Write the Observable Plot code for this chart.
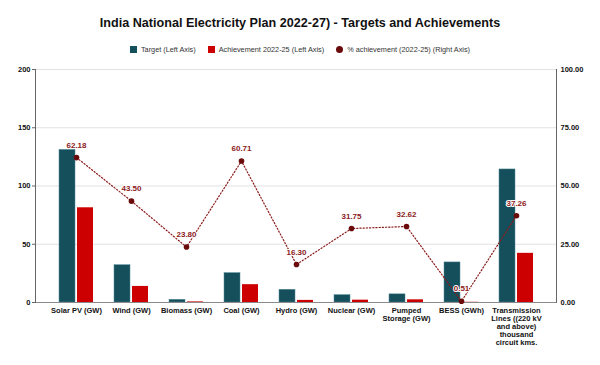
<!DOCTYPE html>
<html>
<head>
<meta charset="utf-8">
<script src="https://cdn.jsdelivr.net/npm/d3@7"></script>
<script src="https://cdn.jsdelivr.net/npm/@observablehq/plot@0.6"></script>
<style>
  body { margin: 0; background: #fff; font-family: "Liberation Sans", Arial, sans-serif; }
  #wrap { width: 600px; }
  #title { height: 38px; line-height: 46px; text-align: center; font-weight: bold; font-size: 12.6px; color: #111; font-family: "Liberation Sans", Arial, sans-serif; }
  #legend { height: 22px; display: flex; justify-content: center; align-items: center; gap: 12px; font-size: 7.3px; color: #333; font-family: "Liberation Sans", Arial, sans-serif; }
  .item { display: flex; align-items: center; gap: 4px; }
  .sw { width: 7px; height: 7px; display: inline-block; }
  .dot { width: 7px; height: 7px; border-radius: 50%; display: inline-block; }
  svg { display: block; }
</style>
</head>
<body>
<div id="wrap">
  <div id="title">India National Electricity Plan 2022-27) - Targets and Achievements</div>
  <div id="legend">
    <span class="item"><span class="sw" style="background:#164f5c"></span>Target (Left Axis)</span>
    <span class="item"><span class="sw" style="background:#cc0000"></span>Achievement 2022-25 (Left Axis)</span>
    <span class="item"><span class="dot" style="background:#6b0a0a"></span>% achievement (2022-25) (Right Axis)</span>
  </div>
  <div id="chart"></div>
</div>
<script>
const categories = [
  "Solar PV (GW)",
  "Wind (GW)",
  "Biomass (GW)",
  "Coal (GW)",
  "Hydro (GW)",
  "Nuclear (GW)",
  "Pumped\nStorage (GW)",
  "BESS (GWh)",
  "Transmission\nLines ((220 kV\nand above)\nthousand\ncircuit kms."
];
const targets      = [131.0, 32.0, 2.3, 25.2, 10.9, 6.3, 7.0, 34.4, 114.2];
const achievements = [81.3, 13.8, 0.5, 15.3, 1.8, 2.0, 2.3, 0.18, 42.2];
const percents     = [62.18, 43.50, 23.80, 60.71, 16.30, 31.75, 32.62, 0.51, 37.26];
const leftTicks = [0, 50, 100, 150, 200];

const rows = categories.map((c, i) => ({
  cat: c, target: targets[i], achieved: achievements[i], pct: percents[i]
}));
// right axis 0..100 shares the left axis 0..200 range
const pctToLeft = p => p * 2;

const font = "'Liberation Sans', Arial, sans-serif";

const chart = Plot.plot({
  width: 600,
  height: 305,
  marginLeft: 35,
  marginRight: 44,
  marginTop: 9,
  marginBottom: 63,
  style: { fontFamily: font, background: "#fff", color: "#111" },
  x: { domain: categories, paddingInner: 0.39, paddingOuter: 0.37, label: null },
  y: { domain: [0, 200], label: null },
  marks: [
    Plot.gridY(leftTicks, { stroke: "#e2e2e2", strokeOpacity: 1, strokeWidth: 1 }),
    Plot.barY(rows, { x: "cat", y: "target", fill: "#164f5c", insetRight: 18, stroke: "#4f8a94", strokeWidth: 0.5 }),
    Plot.barY(rows, { x: "cat", y: "achieved", fill: "#cc0000", insetLeft: 18 }),
    Plot.ruleY([0], { stroke: "#8a8a8a", strokeWidth: 1 }),
    Plot.frame({ anchor: "left", stroke: "#666" }),
    Plot.frame({ anchor: "right", stroke: "#666" }),
    Plot.line(rows, { x: "cat", y: d => pctToLeft(d.pct), stroke: "#8b1a1a", strokeWidth: 1.2, strokeDasharray: "1.2,2" }),
    Plot.dot(rows, { x: "cat", y: d => pctToLeft(d.pct), r: 2.8, fill: "#6b0a0a" }),
    Plot.text(rows, { x: "cat", y: d => pctToLeft(d.pct), text: d => d.pct.toFixed(2), dy: -12.5, fill: "#8b1a1a", stroke: "#fff", strokeWidth: 2, fontWeight: "bold", fontSize: 8 }),
    Plot.axisY(leftTicks, { anchor: "left", tickSize: 3, tickPadding: 2, fontSize: 7.5, fontWeight: "bold", stroke: "#666", fill: "#111", textStroke: "none" }),
    Plot.axisY(leftTicks, { anchor: "right", tickSize: 0, tickPadding: 4, fontSize: 7.5, fontWeight: "bold", fill: "#111", tickFormat: d => (d / 2).toFixed(2) }),
    Plot.axisX({ tickSize: 0, tickPadding: 5, fontSize: 7.5, fontWeight: "bold", fill: "#111", lineHeight: 1.07 })
  ]
});

document.getElementById("chart").appendChild(chart);
</script>
</body>
</html>
